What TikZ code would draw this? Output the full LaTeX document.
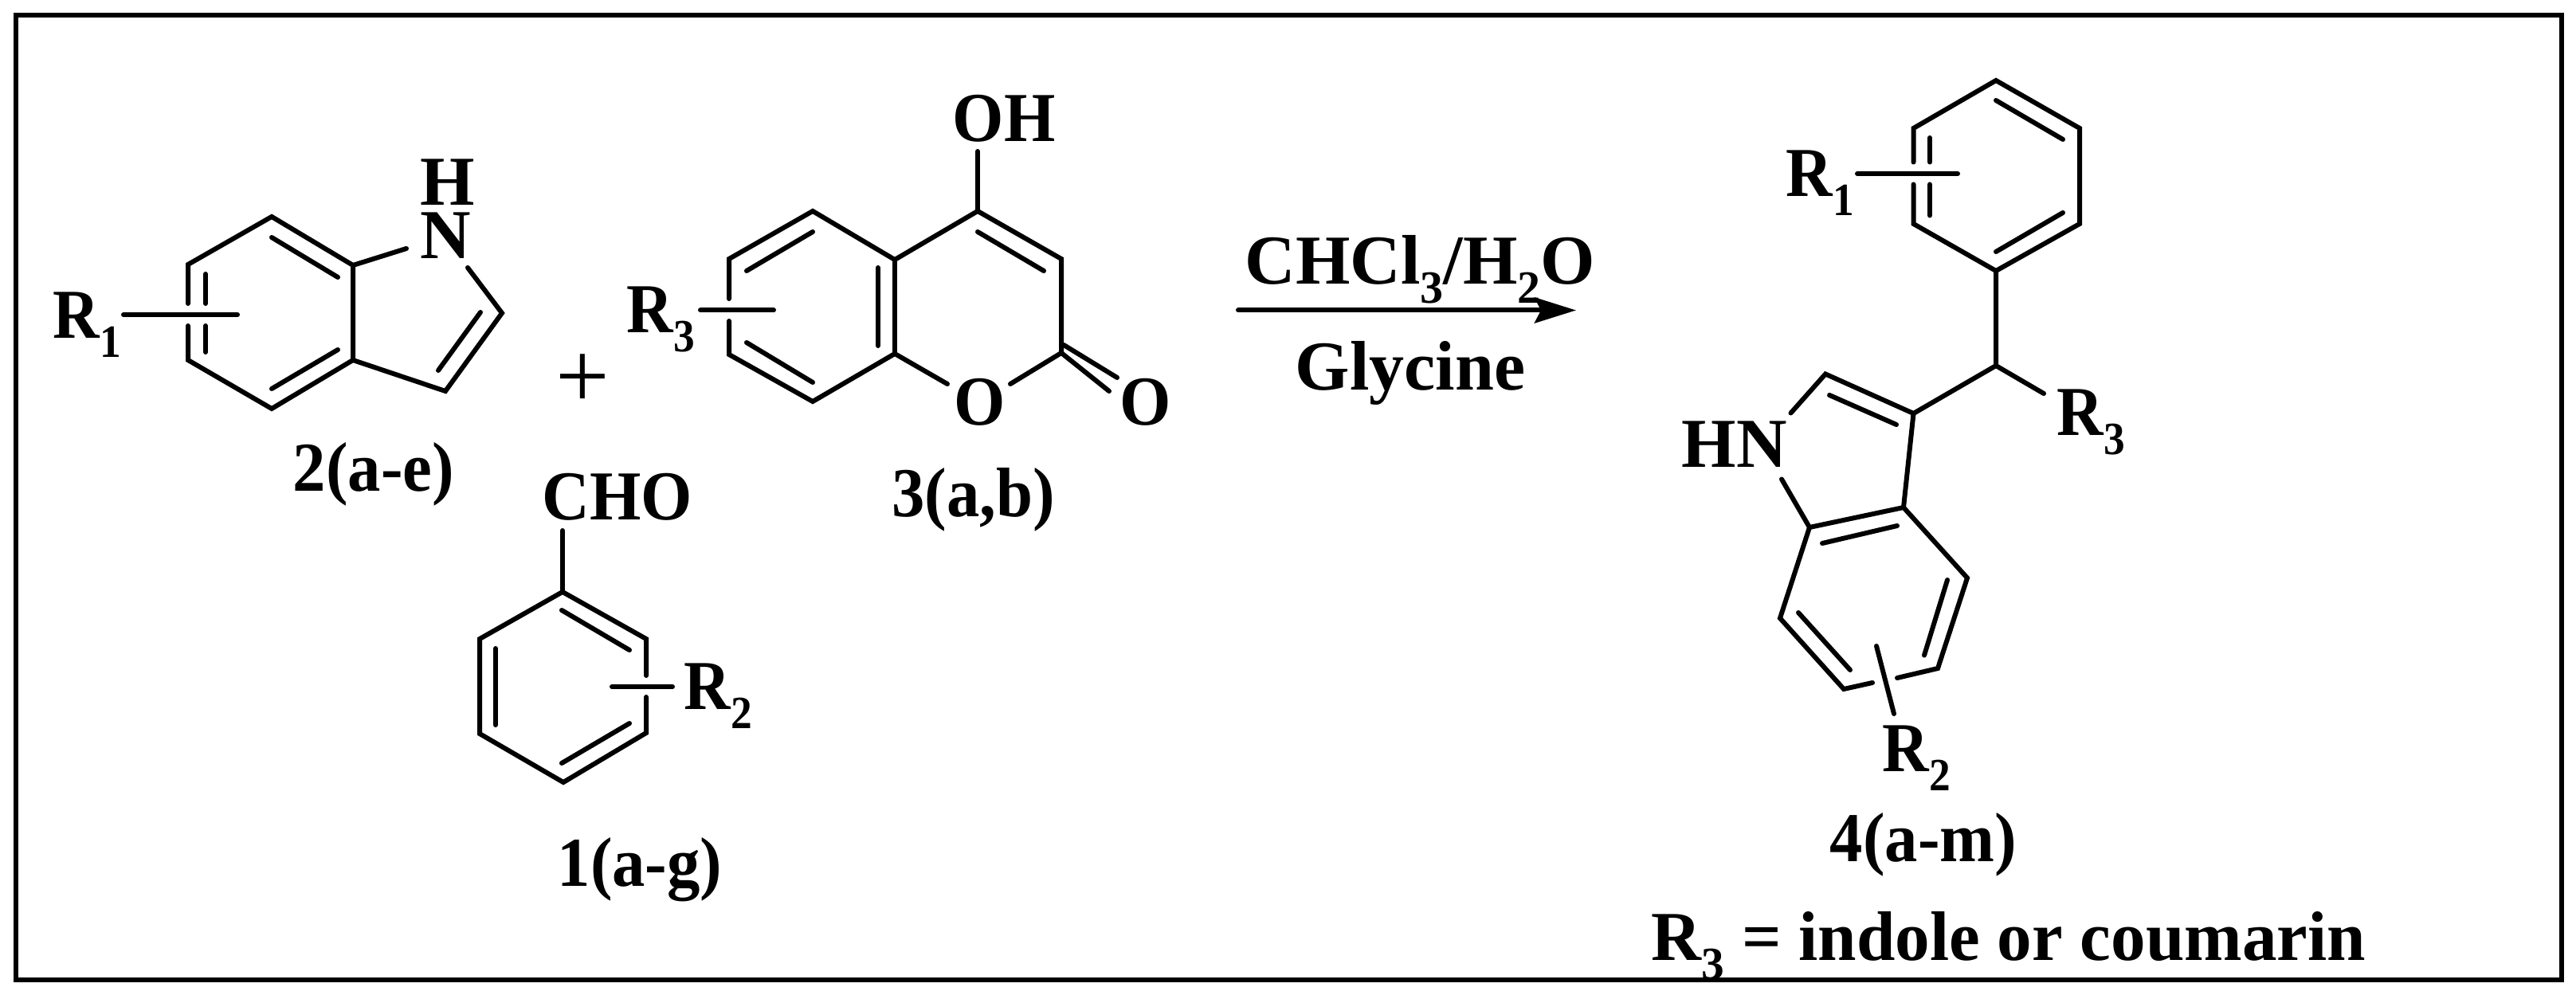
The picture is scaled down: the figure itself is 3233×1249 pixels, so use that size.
\documentclass[tikz,border=0pt]{standalone}
\usepackage{fontspec}
\setmainfont{Liberation Serif}
\usepackage{graphicx}
\usepackage{tikz}
\usetikzlibrary{arrows.meta}

\newcommand{\rsub}[1]{\raisebox{-6pt}{\fontsize{14.5}{15}\selectfont #1}}
\newcommand{\slim}[1]{\scalebox{0.94}[1]{#1}}
\newcommand{\rlabel}[1]{\scalebox{0.92}[1]{R\rsub{#1}}}
\tikzset{
  bond/.style={line width=1.5pt,line join=miter,line cap=round},
  atomtext/.style={inner sep=0pt,anchor=base west,font=\fontsize{22}{22}\selectfont\bfseries},
  nametext/.style={atomtext,anchor=base},
}

\begin{document}
\begin{tikzpicture}[x=0.25pt,y=-0.25pt]
  \useasboundingbox (0,0) rectangle (3233,1249);
  \node (frame) [draw,line width=1.6pt,inner sep=0pt,minimum width=798.75pt,minimum height=302.75pt] at (1617.5,624.5) {};

  % indole 2
  \foreach \name/\pos in {i1/{341,272},i2/{443,333},i3/{443,452},i4/{341,513},i5/{236,452},i6/{236,332},
      i7/{630,393},i8/{559,491},i9/{510,312},i10/{587,336},
      ia/{341,298},ib/{424,348},ic/{341,488},id/{424,439},ie/{603,392},if/{550,465},
      ig/{236,381},ih/{236,409},ij/{258,344},ik/{258,381},il/{258,409},im/{258,442},
      rl/{155,395},rr/{298,395}}
    \coordinate (\name) at (\pos);
  \node (iN) [atomtext] at (527,325) {N};
  \node (iH) [atomtext] at (527,258) {H};
  \node (iR) [atomtext] at (66,425) {\rlabel{1}};
  \node (iname) [nametext] at (469,617) {\slim{2(a-e)}};
  \draw[bond] (ig) -- (i6) -- (i1) -- (i2) -- (i3) -- (i4) -- (i5) -- (ih);
  \draw[bond] (i9) -- (i2) (i3) -- (i8) -- (i7) -- (i10);
  \path[bond]
    (ia) edge (ib)
    (ic) edge (id)
    (ie) edge (if)
    (ij) edge (ik)
    (il) edge (im)
    (rl) edge (rr);

  \node (plus) [inner sep=0pt,font=\fontsize{30}{30}\selectfont] at (731.5,479) {+};

  % aldehyde 1
  \foreach \name/\pos in {a0/{706,666},a1/{706,743},a2/{811,802},a3/{811,920},a4/{707,982},a5/{602,921},a6/{602,802},
      ag/{811,848},ah/{811,875},ia2/{705,766},ib2/{790,816},ic2/{790,908},id2/{705,958},ie2/{622,814},if2/{622,910},
      sl/{768,862},sr/{844,862}}
    \coordinate (\name) at (\pos);
  \node (aCHO) [atomtext] at (680,653) {\slim{CHO}};
  \node (aR) [atomtext] at (858,890) {\rlabel{2}};
  \node (aname) [nametext] at (803,1112) {\slim{1(a-g)}};
  \draw[bond] (ag) -- (a2) -- (a1) -- (a6) -- (a5) -- (a4) -- (a3) -- (ah);
  \path[bond]
    (a0) edge (a1)
    (ia2) edge (ib2)
    (ic2) edge (id2)
    (ie2) edge (if2)
    (sl) edge (sr);

  % coumarin 3
  \foreach \name/\pos in {c0/{1227,190},c1/{1227,265},c2/{1332,325},c3/{1332,443},c4/{1268,482},c5/{1189,482},c6/{1123,444},c7/{1123,326},
      c8/{1020,265},c9/{915,325},c10/{915,445},c11/{1020,504},
      cg/{915,375},ch/{915,403},
      da/{1020,291},db/{937,340},dc/{937,430},dd/{1020,480},de/{1102,336},df/{1102,434},dg/{1227,291},dh/{1310,340},
      oa/{1392,491},ob/{1335,433},oc/{1402,474},
      tl/{879,389.5},tr/{971,389.5}}
    \coordinate (\name) at (\pos);
  \node (cOH) [atomtext] at (1195,178) {\slim{OH}};
  \node (cO) [atomtext] at (1197,534) {\slim{O}};
  \node (cOb) [atomtext] at (1405,534) {\slim{O}};
  \node (cR) [atomtext] at (786,418) {\rlabel{3}};
  \node (cname) [nametext] at (1221.5,649) {\slim{3(a,b)}};
  \draw[bond] (cg) -- (c9) -- (c8) -- (c7) -- (c1) -- (c2) -- (c3) -- (c4);
  \draw[bond] (ch) -- (c10) -- (c11) -- (c6) -- (c5);
  \path[bond]
    (c0) edge (c1)
    (c6) edge (c7)
    (da) edge (db)
    (dc) edge (dd)
    (de) edge (df)
    (dg) edge (dh)
    (c3) edge (oa)
    (ob) edge (oc)
    (tl) edge (tr);

  % arrow
  \coordinate (start) at (1554,389.5);
  \coordinate (stop) at (1978,389.5);
  \node (solvent) [atomtext] at (1562,357) {CHCl\rsub{3}/H\rsub{2}O};
  \node (catalyst) [atomtext] at (1625,490) {Glycine};
  \draw[bond,-{Stealth[length=13pt,width=8pt,inset=2pt]}] (start) -- (stop);

  % product 4
  \foreach \name/\pos in {p1/{2505,101},p2/{2610,161},p3/{2610,281},p4/{2505,340},p5/{2401.5,281},p6/{2401.5,161},
      pg/{2401.5,203.5},ph/{2401.5,231.5},pi/{2422,173},pj/{2422,203.5},pk/{2422,231.5},pl/{2422,270.5},
      pa/{2505,126},pb/{2589,175},pc/{2589,267},pd/{2505,316},
      ul/{2331,218},ur/{2457,218},
      q0/{2505,459},q1/{2565,494},q2/{2401.5,519},q3/{2291,469.5},q4/{2247.5,518.5},q5/{2236,601.5},q6/{2271,662},q7/{2389,637},
      qa/{2380,533},qb/{2296,496},qc/{2287,682},qd/{2381,660},
      s1/{2234,776},s2/{2314,865},s3/{2350,857},s4/{2381,851},s5/{2432,839},s6/{2469,725.5},
      se/{2257,769},sf/{2322,841},sg/{2444,728},sh/{2415,822.6},
      vl/{2355,811},vr/{2377,896}}
    \coordinate (\name) at (\pos);
  \node (pR) [atomtext] at (2241,247) {\rlabel{1}};
  \node (qR) [atomtext] at (2581,547) {\rlabel{3}};
  \node (qHN) [atomtext] at (2110,587) {HN};
  \node (sR) [atomtext] at (2362,968) {\rlabel{2}};
  \node (pname) [nametext] at (2414,1081) {\slim{4(a-m)}};
  \node (note) [atomtext] at (2072,1205) {\scalebox{0.99}[1]{R\rsub{3} = indole or coumarin}};
  \draw[bond] (pg) -- (p6) -- (p1) -- (p2) -- (p3) -- (p4) -- (p5) -- (ph);
  \draw[bond] (p4) -- (q0) -- (q2) -- (q3) -- (q4);
  \draw[bond] (q5) -- (q6) -- (q7) -- (q2);
  \draw[bond] (s3) -- (s2) -- (s1) -- (q6);
  \draw[bond] (s4) -- (s5) -- (s6) -- (q7);
  \path[bond]
    (pi) edge (pj)
    (pk) edge (pl)
    (pa) edge (pb)
    (pc) edge (pd)
    (ul) edge (ur)
    (q0) edge (q1)
    (qa) edge (qb)
    (qc) edge (qd)
    (se) edge (sf)
    (sg) edge (sh)
    (vl) edge (vr);
\end{tikzpicture}
\end{document}
